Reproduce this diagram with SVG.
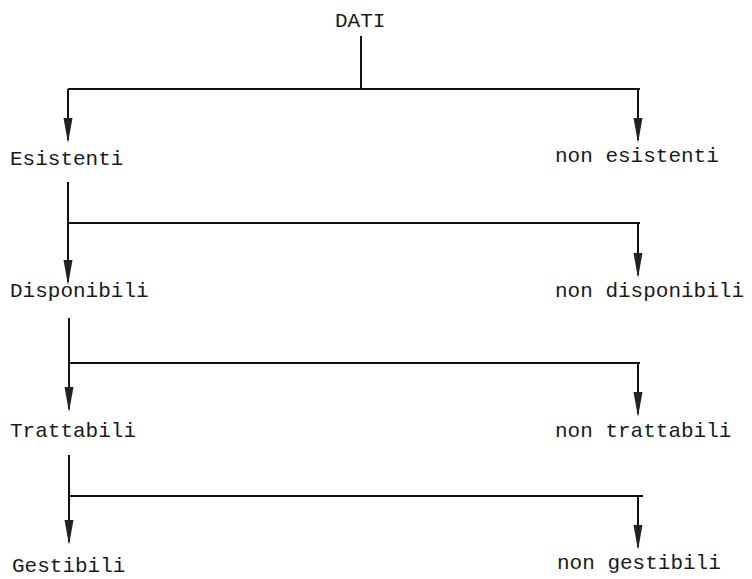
<svg xmlns="http://www.w3.org/2000/svg" width="752" height="579" viewBox="0 0 752 579">
<style>
.lbl{font-family:"Liberation Mono","DejaVu Sans Mono",monospace;font-size:21px;fill:#1a1a1a}
.ln{fill:none;stroke:#111;stroke-width:2}
.arr{marker-end:url(#ah)}
</style>
<defs>
<marker id="ah" markerUnits="userSpaceOnUse" markerWidth="26" markerHeight="10" refX="22" refY="4.5" orient="auto" viewBox="0 0 26 9">
<path d="M0,0 L25,4.5 L0,9 Z" fill="#222"/>
</marker>
</defs>
<rect width="752" height="579" fill="#fff"/>
<g id="connectors">
<path class="ln" d="M361 36 V89"/>
<path class="ln" d="M68 89 H640"/>
<path class="ln arr" d="M68 89 V140"/>
<path class="ln arr" d="M638 89 V140"/>
<path class="ln" d="M68 182 V223"/>
<path class="ln" d="M68 223 H640"/>
<path class="ln arr" d="M68 223 V282"/>
<path class="ln arr" d="M638 223 V275"/>
<path class="ln" d="M69 318 V363"/>
<path class="ln" d="M69 363 H640"/>
<path class="ln arr" d="M69 363 V409"/>
<path class="ln arr" d="M638 363 V414"/>
<path class="ln" d="M69 455 V496"/>
<path class="ln" d="M69 496 H643"/>
<path class="ln arr" d="M69 496 V542"/>
<path class="ln arr" d="M638 496 V547"/>
</g>
<g id="dati"><text class="lbl" x="335" y="27">DATI</text></g>
<g id="esistenti"><text class="lbl" x="10" y="165">Esistenti</text></g>
<g id="non-esistenti"><text class="lbl" x="555" y="162">non esistenti</text></g>
<g id="disponibili"><text class="lbl" x="10" y="297">Disponibili</text></g>
<g id="non-disponibili"><text class="lbl" x="555" y="297">non disponibili</text></g>
<g id="trattabili"><text class="lbl" x="10" y="437">Trattabili</text></g>
<g id="non-trattabili"><text class="lbl" x="555" y="437">non trattabili</text></g>
<g id="gestibili"><text class="lbl" x="12" y="572">Gestibili</text></g>
<g id="non-gestibili"><text class="lbl" x="557" y="569">non gestibili</text></g>
</svg>
